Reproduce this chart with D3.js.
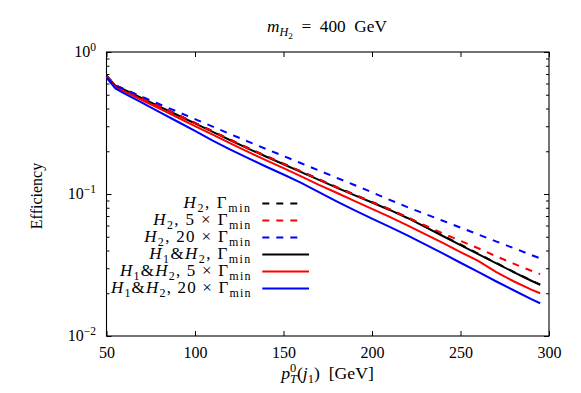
<!DOCTYPE html>
<html><head><meta charset="utf-8">
<script src="https://cdn.jsdelivr.net/npm/d3@7"></script>
<style>
body{margin:0;background:#fff}
text{fill:#000;white-space:pre}
</style>
</head><body>
<svg id="c" width="581" height="393"></svg>
<script>
// ---- data ----
const pT = [50,55,60,70,80,90,100,110,120,130,140,150,160,170,180,190,200,210,220,230,240,250,260,270,280,290,295];
const h2Gmin   = [0.68,0.585,0.547,0.478,0.416,0.363,0.317,0.277,0.241,0.211,0.1856,0.1636,0.1441,0.1270,0.1119,0.0991,0.0880,0.0780,0.0685,0.0592,0.0511,0.0441,0.0380,0.0328,0.0283,0.0246,0.0230];
const h2G5     = [0.675,0.583,0.545,0.476,0.415,0.362,0.316,0.276,0.240,0.210,0.1848,0.1630,0.1436,0.1265,0.1115,0.0988,0.0877,0.0779,0.0685,0.0600,0.0528,0.0468,0.0415,0.0365,0.0323,0.0288,0.0273];
const h2G20    = [0.66,0.575,0.548,0.485,0.429,0.380,0.337,0.298,0.264,0.234,0.208,0.185,0.1646,0.1464,0.1302,0.1158,0.1028,0.0910,0.0809,0.0724,0.0648,0.0580,0.0519,0.0464,0.0416,0.0372,0.0352];
const h12Gmin  = [0.68,0.58,0.542,0.473,0.4125,0.360,0.314,0.274,0.239,0.209,0.1838,0.162,0.1427,0.1257,0.1108,0.0981,0.0871,0.0772,0.0678,0.0586,0.0506,0.0437,0.0377,0.0326,0.0282,0.0245,0.0229];
const h12G5    = [0.67,0.568,0.528,0.459,0.399,0.347,0.301,0.262,0.227,0.198,0.173,0.152,0.133,0.116,0.102,0.0895,0.0785,0.0690,0.0602,0.0521,0.0452,0.0390,0.0338,0.0283,0.0243,0.0212,0.0200];
const h12G20   = [0.66,0.554,0.512,0.440,0.377,0.324,0.278,0.238,0.2055,0.1787,0.1562,0.1372,0.1199,0.1031,0.0886,0.0770,0.0671,0.0587,0.0512,0.0442,0.0382,0.0328,0.0283,0.0243,0.0210,0.0182,0.0170];
const xTicks = [50,100,150,200,250,300];
const yTicks = [1,0.1,0.01];
const yTickExp = ["0","−1","−2"];
const seriesNames = ["H2, Γmin","H2, 5 × Γmin","H2, 20 × Γmin","H1&H2, Γmin","H1&H2, 5 × Γmin","H1&H2, 20 × Γmin"];
const seriesColors = ["#000000","#ff0000","#0000ff","#000000","#ff0000","#0000ff"];
const seriesDashed = [true,true,true,false,false,false];

const series = [h2Gmin,h2G5,h2G20,h12Gmin,h12G5,h12G20];

const FONT='"Liberation Serif","DejaVu Serif","Noto Serif","Times New Roman",serif';

// ---- layout ----
const M={l:106.5,r:549,t:52,b:336};
const svg=d3.select('#c').attr('font-family',FONT);
const x=d3.scaleLinear().domain([50,300]).range([M.l,M.r]);
const y=d3.scaleLog().domain([0.01,1]).range([M.b,M.t]);

function rich(sel, parts, base){
  let cur=0;
  parts.forEach(p=>{
    const sh=p.s||0;
    const ts=sel.append('tspan').text(p.t)
      .attr('font-size',p.fs||base)
      .attr('font-style',p.i?'italic':'normal');
    if(sh-cur) ts.attr('dy',sh-cur);
    if(p.dx) ts.attr('dx',p.dx);
    cur=sh;
  });
}
// scale a rich text so its width matches a target (font independent)
function fit(sel, target){
  const w=sel.node().getComputedTextLength();
  if(!w) return;
  let f=target/w; f=Math.max(0.8,Math.min(1.35,f));
  sel.attr('font-size',+sel.attr('font-size')*f);
  sel.selectAll('tspan').each(function(){
    const t=d3.select(this);
    t.attr('font-size',+t.attr('font-size')*f);
    if(t.attr('dy')) t.attr('dy',+t.attr('dy')*f);
    if(t.attr('dx')) t.attr('dx',+t.attr('dx')*f);
  });
}
// widen a text with letter spacing to reach a target width
function spread(sel, target){
  const w=sel.node().getComputedTextLength();
  const n=sel.text().length;
  if(!w||!n) return;
  const ls=Math.max(0,Math.min(1.6,(target-w)/n));
  sel.style('letter-spacing',ls+'px');
}

svg.append('defs').append('clipPath').attr('id','pc').append('rect')
  .attr('x',M.l).attr('y',M.t).attr('width',M.r-M.l).attr('height',M.b-M.t);

const minors=[];
[0.01,0.1].forEach(d=>{for(let k=2;k<=9;k++) minors.push(d*k);});

function styleAxis(g){g.attr('font-family',FONT); g.select('.domain').remove(); g.selectAll('line').attr('stroke','#000').attr('stroke-width',1);}

svg.append('g').attr('transform',`translate(0,${M.b})`)
  .call(d3.axisBottom(x).tickValues(xTicks).tickSize(-5).tickFormat(d3.format('d')))
  .call(styleAxis)
  .call(g=>g.selectAll('text').attr('dy',null).attr('y',22).attr('font-size',16).attr('fill','#000'));
svg.append('g').attr('transform',`translate(0,${M.t})`)
  .call(d3.axisTop(x).tickValues(xTicks).tickSize(-5).tickFormat(''))
  .call(styleAxis);
svg.append('g').attr('transform',`translate(${M.l},0)`)
  .call(d3.axisLeft(y).tickValues(minors).tickSize(-3).tickFormat(''))
  .call(styleAxis);
svg.append('g').attr('transform',`translate(${M.r},0)`)
  .call(d3.axisRight(y).tickValues(minors).tickSize(-3).tickFormat(''))
  .call(styleAxis);
svg.append('g').attr('transform',`translate(${M.r},0)`)
  .call(d3.axisRight(y).tickValues(yTicks).tickSize(-5).tickFormat(''))
  .call(styleAxis);
const yl=svg.append('g').attr('transform',`translate(${M.l},0)`)
  .call(d3.axisLeft(y).tickValues(yTicks).tickSize(-5).tickFormat(''))
  .call(styleAxis);
yl.selectAll('.tick').each(function(d,i){
  const t=d3.select(this).append('text').attr('x',-10.5).attr('y',4.5)
    .attr('text-anchor','end').attr('font-size',16);
  rich(t,[{t:'10'},{t:yTickExp[i],s:-6,fs:11.5}],16);
});

svg.append('rect').attr('x',M.l).attr('y',M.t).attr('width',M.r-M.l).attr('height',M.b-M.t)
  .attr('fill','none').attr('stroke','#000').attr('stroke-width',1.1);

const line=d3.line().x((d,i)=>x(pT[i])).y(d=>y(d));
const order=[3,4,5,0,1,2];
const plot=svg.append('g').attr('clip-path','url(#pc)');
order.forEach(k=>{
  plot.append('path').datum(series[k]).attr('d',line)
    .attr('fill','none').attr('stroke',seriesColors[k]).attr('stroke-width',2)
    .attr('stroke-dasharray',seriesDashed[k]?'7,7':null);
});

const S=12; // script size
const legendParts=[
  [{t:'H',i:1},{t:'2',s:4,fs:S},{t:', Γ'},{t:'min',s:4,fs:S}],
  [{t:'H',i:1},{t:'2',s:4,fs:S},{t:', 5 × Γ'},{t:'min',s:4,fs:S}],
  [{t:'H',i:1},{t:'2',s:4,fs:S},{t:', 20 × Γ'},{t:'min',s:4,fs:S}],
  [{t:'H',i:1},{t:'1',s:4,fs:S},{t:'&'},{t:'H',i:1},{t:'2',s:4,fs:S},{t:', Γ'},{t:'min',s:4,fs:S}],
  [{t:'H',i:1},{t:'1',s:4,fs:S},{t:'&'},{t:'H',i:1},{t:'2',s:4,fs:S},{t:', 5 × Γ'},{t:'min',s:4,fs:S}],
  [{t:'H',i:1},{t:'1',s:4,fs:S},{t:'&'},{t:'H',i:1},{t:'2',s:4,fs:S},{t:', 20 × Γ'},{t:'min',s:4,fs:S}]
];
const legendWidths=[70,98.4,107.4,102.4,131.7,140.7];
const leg=svg.append('g').attr('class','legend');
seriesNames.forEach((nm,k)=>{
  const yy=203.5+17*k;
  const t=leg.append('text').attr('x',251.7).attr('y',yy+4.5).attr('text-anchor','end').attr('font-size',17);
  rich(t,legendParts[k],17);
  spread(t,legendWidths[k]);
  leg.append('line').attr('x1',262.3).attr('x2',seriesDashed[k]?300:309).attr('y1',yy).attr('y2',yy)
    .attr('stroke',seriesColors[k]).attr('stroke-width',2)
    .attr('stroke-dasharray',seriesDashed[k]?'7,7':null);
});

const tt=svg.append('text').attr('x',327).attr('y',31.5).attr('text-anchor','middle').attr('font-size',17);
rich(tt,[{t:'m',i:1},{t:'H',i:1,s:4,fs:12},{t:'2',s:7,fs:9},{t:'  =  400  GeV',s:0}],17);
fit(tt,120);

const xt=svg.append('text').attr('x',327.5).attr('y',379).attr('text-anchor','middle').attr('font-size',17);
rich(xt,[{t:'p',i:1},{t:'0',s:-7,fs:12},{t:'T',i:1,s:4,fs:12,dx:-6},{t:'(',s:0},{t:'j',i:1},{t:'1',s:4,fs:12},{t:')  [GeV]',s:0}],17);
fit(xt,99);

svg.append('text').attr('transform','translate(42,196) rotate(-90)').attr('text-anchor','middle')
  .attr('font-size',16).text('Efficiency');
</script>
</body></html>
